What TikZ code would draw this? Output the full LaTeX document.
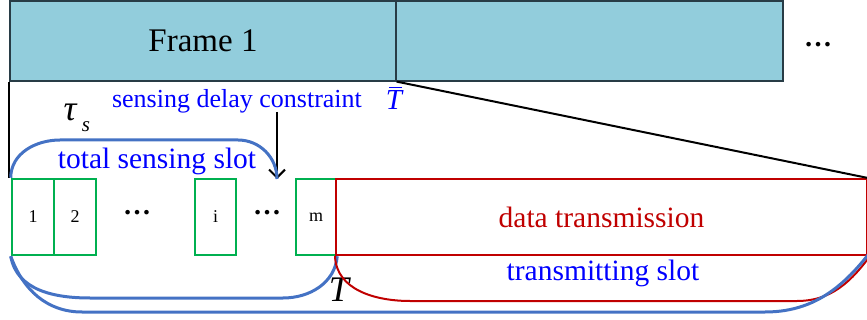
\documentclass[tikz,border=0pt]{standalone}
\usepackage{fontspec}
\setmainfont{Liberation Serif}
\usetikzlibrary{arrows.meta}
\definecolor{framefill}{RGB}{146,205,220}
\definecolor{frameline}{RGB}{40,60,70}
\definecolor{bracketblue}{RGB}{68,114,196}
\definecolor{textblue}{RGB}{0,0,255}
\definecolor{slotgreen}{RGB}{0,176,80}
\definecolor{datared}{RGB}{192,0,0}
\newcommand{\fsz}[1]{\fontsize{#1}{#1}\selectfont}
\tikzset{
  framebox/.style={draw=frameline, line width=1.2pt, fill=framefill, inner sep=0pt, minimum height=80pt},
  slotbox/.style={draw=slotgreen, line width=2.5pt, inner sep=0pt, minimum height=76pt, font=\fsz{18}},
  databox/.style={draw=datared, line width=2pt, inner sep=0pt, minimum height=76pt, text=datared, font=\fsz{29.5}},
  bluebr/.style={draw=bracketblue, line width=3pt},
  redbr/.style={draw=datared, line width=2pt},
  blacklink/.style={draw=black, line width=2pt},
  bluelabel/.style={text=textblue, inner sep=0pt, font=\fsz{29.5}},
  dotsl/.style={inner sep=0pt, anchor=base, font=\fsz{28}\bfseries}
}
\begin{document}
\begin{tikzpicture}[x=1pt,y=-1pt]
\useasboundingbox (0,0) rectangle (867,320);
\clip (0,0) rectangle (867,320);
% frames
\node[framebox, minimum width=386pt, font=\fsz{33}] (f1) at (203,41) {Frame 1};
\node[framebox, minimum width=387pt] (f2) at (589.5,41) {};
\node[dotsl] (moredots) at (818,47) {…};
% slots
\node[slotbox, minimum width=42pt] (b1) at (33,217) {1};
\node[slotbox, minimum width=42pt] (b2) at (75,217) {2};
\node[dotsl] (d1) at (137,215) {…};
\node[slotbox, minimum width=41pt] (bi) at (215.5,217) {i};
\node[dotsl] (d2) at (267,215) {…};
\node[slotbox, minimum width=40pt] (bm) at (316,217) {m};
\node[databox, minimum width=531pt] (data) at (601.5,217) {data transmission};
% zoom lines
\draw[blacklink] (f1.south west) -- (f1.south west |- b1.north);
\draw[blacklink] (f1.south east) -- (data.north east);
% labels
\node[bluelabel, font=\fsz{26}] (sdc) at (237,101) {sensing delay constraint};
\node[bluelabel, font=\fsz{29}, anchor=base] (tbar) at (394,110) {\rlap{\kern3pt\raisebox{22pt}{\vrule width 13pt height 1.4pt depth 0pt}}\itshape T};
\node[inner sep=0pt, font=\fsz{36}] (tau) at (70,112) {\itshape τ};
\node[inner sep=0pt, font=\fsz{21}] (taus) at (86,127) {\itshape s};
% arrow
\coordinate (atop) at (277,112);
\coordinate (abot) at (277,179);
\draw[blacklink, -{Straight Barb[length=8pt,width=16pt]}] (atop) -- (abot);
% top bracket (total sensing slot)
\draw[bluebr] (b1.north west) to[out=90,in=180] (60,140) -- (238,140) to[out=0,in=90] (abot);
\node[bluelabel] (tss) at (157,161) {total sensing slot};
% bottom brackets
\draw[bluebr] (b1.south west) to[out=-80,in=180] (90,298) -- (283,298) to[out=0,in=-95] (bm.south east);
\node[inner sep=0pt, font=\fsz{36}] (Tl) at (339,290) {\itshape T};
\draw[redbr] (data.south west) to[out=-88,in=180] (410,301) -- (797,301) to[out=0,in=-125] (885,235);
\node[bluelabel] (tsl) at (603,273) {transmitting slot};
\draw[bluebr] (b1.south west) to[out=-70,in=180] (82,312) -- (765,312) to[out=0,in=-125] (885,232);
\end{tikzpicture}
\end{document}
